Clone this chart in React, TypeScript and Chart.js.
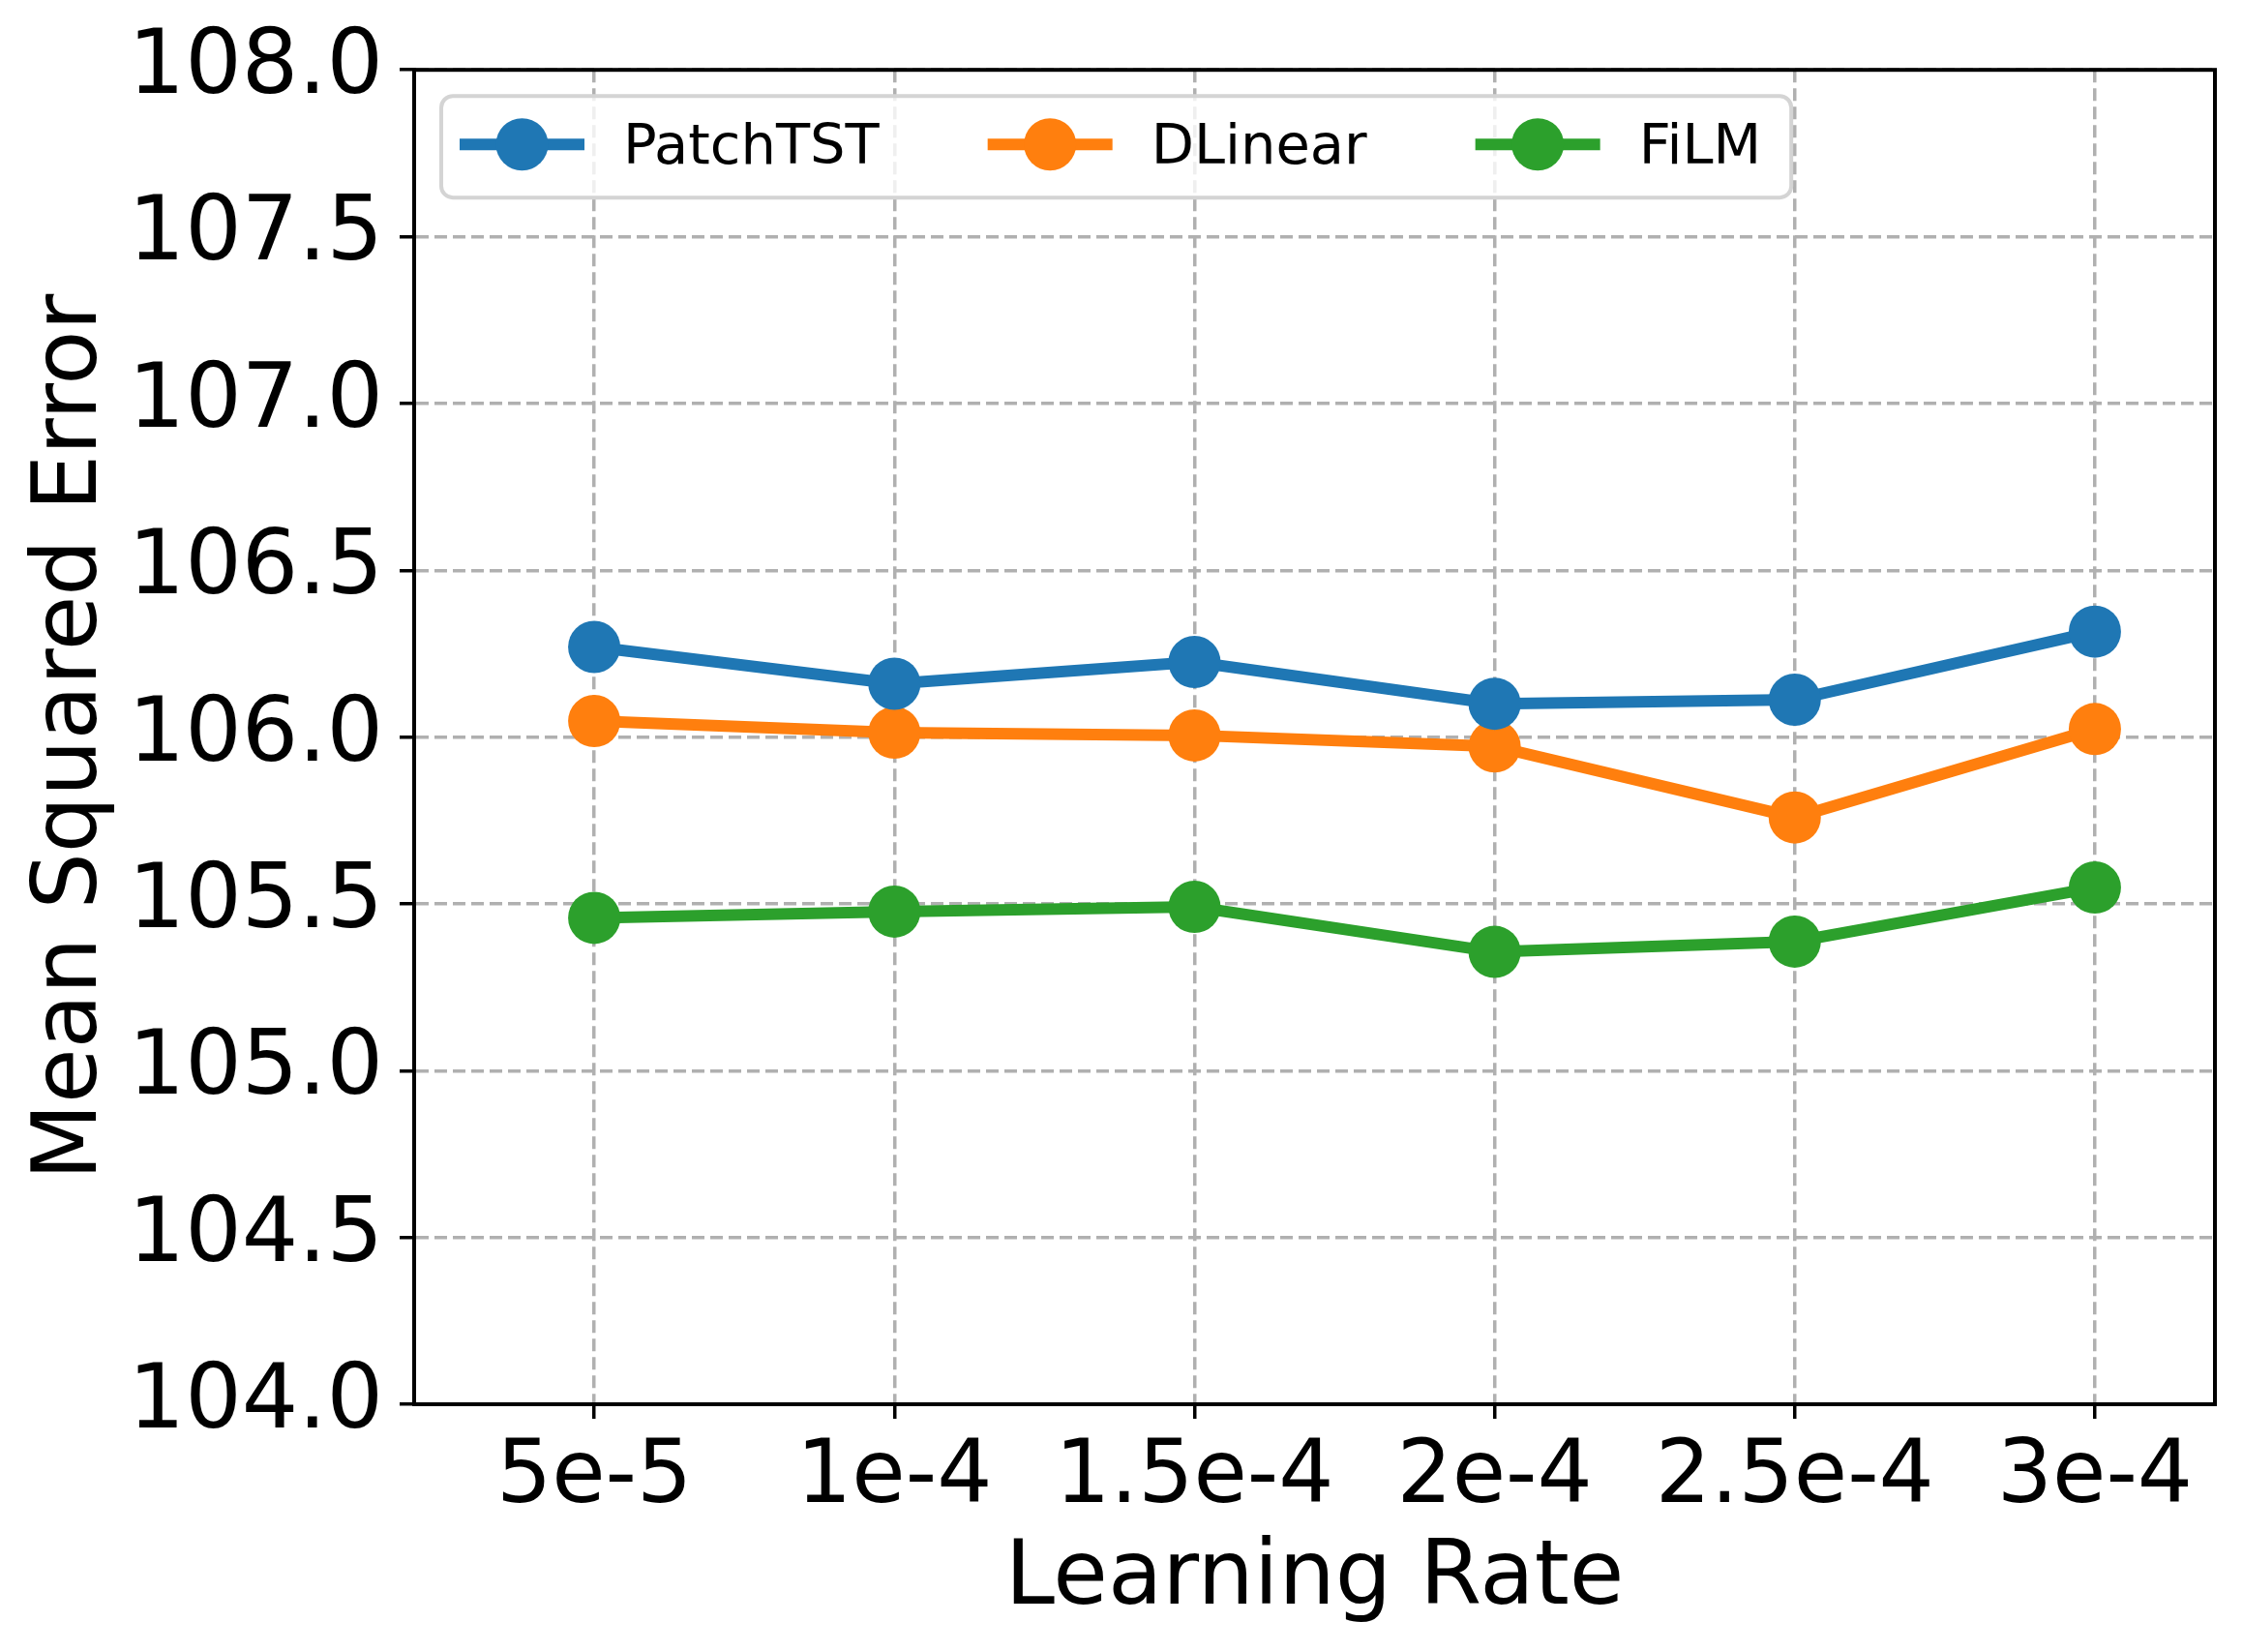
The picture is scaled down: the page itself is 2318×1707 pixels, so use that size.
import React, { useEffect, useRef } from 'react';
import { Chart, registerables } from 'chart.js';

Chart.register(...registerables);

// learning rates on the x axis
const learningRates = ['5e-5', '1e-4', '1.5e-4', '2e-4', '2.5e-4', '3e-4'];

// mean squared error per model
const patchTST = [106.27, 106.16, 106.225, 106.1, 106.112, 106.316];
const dLinear = [106.048, 106.013, 106.005, 105.972, 105.759, 106.024];
const film = [105.458, 105.477, 105.491, 105.356, 105.387, 105.549];

const seriesNames = ['PatchTST', 'DLinear', 'FiLM'];
const seriesColors = ['#1f77b4', '#ff7f0e', '#2ca02c'];

const yMin = 104;
const yMax = 108;
const yStep = 0.5;

const FONT = 'DejaVu Sans';

// matplotlib-like closed frame around the plot area
const framePlugin = {
  id: 'frame',
  afterDraw(chart: Chart) {
    const { ctx, chartArea: a } = chart;
    ctx.save();
    ctx.strokeStyle = '#000';
    ctx.lineWidth = 4;
    ctx.strokeRect(a.left, a.top, a.right - a.left, a.bottom - a.top);
    ctx.restore();
  },
};

// legend with line + marker samples, laid out in one row
const legendPlugin = {
  id: 'lineLegend',
  afterDraw(chart: Chart) {
    const { ctx, chartArea: a } = chart;
    const boxX = a.left + 28;
    const boxY = a.top + 27;
    const boxH = 105;
    const midY = boxY + 50;
    const font = `57.5px "${FONT}"`;

    ctx.save();
    ctx.font = font;
    // column widths follow the text, like matplotlib's ncol legend
    const items: { x0: number; tx: number; ds: any }[] = [];
    let x0 = a.left + 47;
    chart.data.datasets.forEach((ds: any) => {
      const tx = x0 + 169;
      items.push({ x0, tx, ds });
      x0 = tx + ctx.measureText(ds.label).width + 112;
    });
    const last = items[items.length - 1];
    const boxW = last.tx + ctx.measureText(last.ds.label).width + 31 - boxX;

    ctx.beginPath();
    ctx.roundRect(boxX, boxY, boxW, boxH, 12);
    ctx.fillStyle = 'rgba(255,255,255,0.8)';
    ctx.fill();
    ctx.lineWidth = 4;
    ctx.strokeStyle = '#d4d4d4';
    ctx.stroke();

    items.forEach(({ x0: sx, tx, ds }) => {
      ctx.strokeStyle = ds.borderColor;
      ctx.lineWidth = 12;
      ctx.beginPath();
      ctx.moveTo(sx, midY);
      ctx.lineTo(sx + 129, midY);
      ctx.stroke();
      ctx.fillStyle = ds.borderColor;
      ctx.beginPath();
      ctx.arc(sx + 64.5, midY, 27, 0, Math.PI * 2);
      ctx.fill();

      ctx.fillStyle = '#000';
      ctx.font = font;
      ctx.textBaseline = 'alphabetic';
      ctx.textAlign = 'left';
      ctx.fillText(ds.label, tx, midY + 20);
    });
    ctx.restore();
  },
};

const App: React.FC = () => {
  const canvasRef = useRef<HTMLCanvasElement | null>(null);
  const chartRef = useRef<Chart | null>(null);

  useEffect(() => {
    document.body.style.margin = '0';
    if (!canvasRef.current) return;
    const ctx = canvasRef.current.getContext('2d');
    if (!ctx) return;

    if (chartRef.current) chartRef.current.destroy();

    const values = [patchTST, dLinear, film];

    chartRef.current = new Chart(ctx, {
      type: 'line',
      data: {
        datasets: values.map((vals, i) => ({
          label: seriesNames[i],
          data: vals.map((y, j) => ({ x: j, y })),
          borderColor: seriesColors[i],
          backgroundColor: seriesColors[i],
          pointBackgroundColor: seriesColors[i],
          pointBorderWidth: 0,
          pointRadius: 27,
          borderWidth: 12,
          tension: 0,
          fill: false,
        })),
      },
      options: {
        responsive: false,
        animation: false,
        devicePixelRatio: 1,
        layout: { padding: { top: 66, right: 29, left: 0, bottom: 0 } },
        plugins: {
          legend: { display: false },
          tooltip: { enabled: false },
        },
        scales: {
          x: {
            type: 'linear',
            min: -0.6,
            max: 5.4,
            afterBuildTicks: (axis: any) => {
              axis.ticks = learningRates.map((_, i) => ({ value: i }));
            },
            afterFit: (axis: any) => {
              axis.height = 256;
            },
            ticks: {
              callback: (v: any) => learningRates[v] ?? '',
              autoSkip: false,
              maxRotation: 0,
              color: '#000',
              padding: 9,
              font: { family: FONT, size: 90 },
            },
            grid: {
              color: '#b0b0b0',
              lineWidth: 3.5,
              tickLength: 15,
              tickColor: '#000',
              tickWidth: 3.5,
            },
            border: { color: '#000', width: 4, dash: [13, 6] },
            title: {
              display: true,
              text: 'Learning Rate',
              color: '#000',
              font: { family: FONT, size: 92 },
              padding: { top: 0, bottom: 19 },
            },
          },
          y: {
            min: yMin,
            max: yMax,
            afterFit: (axis: any) => {
              axis.width = 428;
            },
            ticks: {
              stepSize: yStep,
              callback: (v: any) => Number(v).toFixed(1),
              color: '#000',
              padding: 17,
              font: { family: FONT, size: 92 },
            },
            grid: {
              color: '#b0b0b0',
              lineWidth: 3.5,
              tickLength: 15,
              tickColor: '#000',
              tickWidth: 3.5,
            },
            border: { color: '#000', width: 4, dash: [13, 6] },
            title: {
              display: true,
              text: 'Mean Squared Error',
              color: '#000',
              font: { family: FONT, size: 92 },
              padding: { top: 20, bottom: 0 },
            },
          },
        },
      },
      plugins: [framePlugin, legendPlugin],
    });

    return () => {
      if (chartRef.current) {
        chartRef.current.destroy();
        chartRef.current = null;
      }
    };
  }, []);

  return (
    <div style={{ width: 2318, height: 1707, background: '#fff' }}>
      <canvas ref={canvasRef} width={2318} height={1707} style={{ width: 2318, height: 1707, display: 'block' }} />
    </div>
  );
};

export default App;
